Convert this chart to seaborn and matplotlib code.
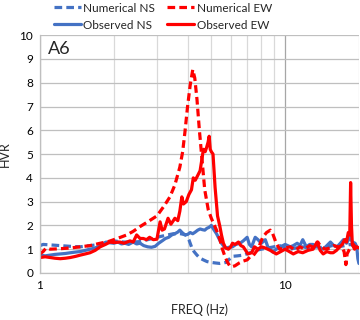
import pandas as pd
import matplotlib
matplotlib.use("Agg")
import matplotlib.pyplot as plt
from matplotlib.ticker import LogLocator, FixedLocator, FixedFormatter, NullFormatter
import seaborn as sns

# datos (frecuencia en Hz, HVR)
freq_obs_ns = [1.00, 1.05, 1.10, 1.15, 1.21, 1.27, 1.33, 1.40, 1.46, 1.53, 1.60, 1.68, 1.76, 1.81,
               1.86, 1.93, 2.00, 2.08, 2.15, 2.22, 2.30, 2.40, 2.48, 2.56, 2.65, 2.75, 2.85, 2.95,
               3.05, 3.15, 3.25, 3.35, 3.45, 3.55, 3.65, 3.72, 3.80, 3.90, 4.00, 4.10, 4.20, 4.30,
               4.40, 4.50, 4.60, 4.70, 4.80, 4.90, 5.00, 5.10, 5.25, 5.40, 5.50, 5.65, 5.77, 5.90,
               6.10, 6.30, 6.55, 6.75, 7.00, 7.15, 7.30, 7.55, 7.75, 8.00, 8.30, 8.50, 8.70, 8.90,
               9.20, 9.60, 10.0, 10.5, 10.8, 11.2, 11.5, 11.8, 12.2, 12.6, 13.0, 13.6, 14.3, 14.8,
               15.3, 15.8, 16.3, 16.8, 17.3, 17.8, 18.4, 18.8, 19.3, 19.6, 19.8, 20.0]
hvr_obs_ns = [0.75, 0.72, 0.75, 0.78, 0.80, 0.82, 0.85, 0.88, 0.90, 0.95, 1.00, 1.05, 1.15, 1.22,
              1.30, 1.27, 1.25, 1.30, 1.22, 1.25, 1.20, 1.30, 1.22, 1.25, 1.15, 1.10, 1.08, 1.12,
              1.25, 1.35, 1.45, 1.50, 1.60, 1.65, 1.72, 1.80, 1.70, 1.60, 1.62, 1.70, 1.65, 1.72,
              1.80, 1.85, 1.82, 1.80, 1.88, 1.92, 2.00, 1.85, 1.65, 1.40, 1.25, 1.10, 1.05, 1.08,
              1.10, 1.20, 1.25, 1.35, 1.50, 1.20, 1.10, 1.50, 1.40, 1.25, 1.40, 1.10, 1.00, 0.88,
              1.00, 1.10, 1.20, 1.10, 1.15, 1.25, 1.15, 1.40, 1.10, 1.20, 1.20, 1.10, 1.00, 1.15,
              1.30, 1.15, 1.10, 1.25, 1.40, 1.25, 1.50, 1.30, 1.25, 1.10, 0.60, 0.40]

freq_obs_ew = [1.00, 1.05, 1.10, 1.15, 1.21, 1.27, 1.33, 1.40, 1.46, 1.53, 1.60, 1.68, 1.76, 1.85,
               1.93, 2.00, 2.12, 2.20, 2.33, 2.40, 2.48, 2.56, 2.64, 2.72, 2.80, 2.90, 3.00, 3.09,
               3.15, 3.22, 3.33, 3.42, 3.50, 3.55, 3.65, 3.72, 3.79, 3.85, 3.95, 4.05, 4.15, 4.22,
               4.30, 4.40, 4.50, 4.58, 4.64, 4.72, 4.79, 4.85, 4.90, 4.95, 5.00, 5.08, 5.18, 5.30,
               5.42, 5.50, 5.60, 5.72, 5.87, 6.00, 6.10, 6.25, 6.45, 6.60, 6.75, 6.90, 7.05, 7.30,
               7.50, 7.75, 8.00, 8.30, 8.70, 9.20, 9.60, 10.0, 10.4, 10.8, 11.3, 11.8, 12.4, 13.0,
               13.5, 13.9, 14.3, 14.8, 15.3, 15.7, 16.2, 16.7, 17.1, 17.5, 17.8, 18.1, 18.35, 18.5,
               18.65, 18.8, 19.2, 19.6, 20.0]
hvr_obs_ew = [0.65, 0.68, 0.65, 0.62, 0.60, 0.62, 0.65, 0.70, 0.75, 0.80, 0.85, 0.95, 1.10, 1.20,
              1.30, 1.28, 1.30, 1.25, 1.35, 1.30, 1.60, 1.45, 1.45, 1.40, 1.50, 1.40, 1.42, 2.15,
              1.80, 1.85, 2.30, 2.05, 2.20, 2.30, 2.20, 2.60, 3.20, 2.90, 3.00, 3.30, 3.50, 4.00,
              3.90, 4.10, 4.30, 4.80, 5.20, 5.10, 5.30, 5.50, 5.75, 5.20, 5.10, 5.00, 3.60, 2.40,
              1.95, 1.60, 1.25, 1.05, 1.00, 1.10, 1.25, 1.20, 1.30, 1.15, 1.10, 0.95, 0.80, 0.85,
              1.10, 1.00, 1.10, 1.05, 0.95, 0.80, 0.90, 1.00, 0.90, 0.80, 0.90, 0.85, 0.95, 1.00,
              1.30, 0.95, 0.80, 0.90, 0.85, 0.85, 0.95, 1.10, 1.20, 1.40, 1.30, 1.70, 1.60, 3.80,
              2.00, 1.20, 1.00, 1.10, 1.05]

freq_num_ns = [1.00, 1.03, 1.10, 1.21, 1.33, 1.46, 1.60, 1.76, 1.90, 2.00, 2.20, 2.40, 2.56, 2.75,
               3.00, 3.25, 3.50, 3.75, 3.95, 4.05, 4.15, 4.25, 4.37, 4.50, 4.64, 4.80, 4.94, 5.20,
               5.42, 5.60, 5.77, 5.95, 6.10, 6.40, 6.75, 7.20, 7.60, 8.00, 8.50, 9.00, 9.50, 10.0,
               10.5, 11.0, 11.8, 12.5, 13.5, 14.5, 15.5, 16.5, 17.5, 18.5, 19.3, 20.0]
hvr_num_ns = [1.15, 1.20, 1.18, 1.15, 1.12, 1.10, 1.15, 1.20, 1.28, 1.35, 1.30, 1.30, 1.32, 1.40,
              1.50, 1.58, 1.65, 1.65, 1.60, 1.40, 1.10, 0.90, 0.75, 0.62, 0.55, 0.48, 0.45, 0.42,
              0.40, 0.42, 0.45, 0.60, 0.70, 0.72, 0.75, 0.85, 0.95, 1.00, 1.05, 1.10, 1.15, 1.05,
              1.00, 1.05, 1.10, 1.05, 1.10, 1.05, 1.15, 1.10, 1.15, 1.20, 1.10, 1.05]

freq_num_ew = [1.00, 1.03, 1.06, 1.10, 1.21, 1.33, 1.46, 1.60, 1.76, 1.90, 2.00, 2.13, 2.26, 2.40,
               2.56, 2.75, 3.00, 3.20, 3.39, 3.55, 3.72, 3.82, 3.90, 4.00, 4.10, 4.20, 4.28, 4.37,
               4.47, 4.57, 4.70, 4.86, 5.00, 5.10, 5.25, 5.42, 5.55, 5.68, 5.82, 5.96, 6.10, 6.24,
               6.50, 6.75, 7.00, 7.20, 7.40, 7.75, 8.10, 8.40, 8.70, 8.90, 9.20, 9.50, 10.0, 10.5,
               11.0, 11.5, 12.0, 12.6, 13.2, 13.6, 14.0, 14.6, 15.2, 15.8, 16.4, 17.0, 17.4, 17.7,
               17.9, 18.3, 19.0, 19.6, 20.0]
hvr_num_ew = [0.80, 0.90, 1.05, 1.00, 1.02, 1.05, 1.10, 1.15, 1.25, 1.32, 1.40, 1.50, 1.60, 1.75,
              1.95, 2.15, 2.40, 2.80, 3.20, 3.70, 4.45, 5.10, 5.90, 7.00, 7.90, 8.55, 8.20, 7.30,
              6.00, 4.90, 3.50, 2.65, 2.30, 2.10, 1.80, 1.40, 1.00, 0.70, 0.45, 0.28, 0.27, 0.30,
              0.42, 0.50, 0.55, 0.68, 0.72, 1.00, 1.50, 1.70, 1.80, 1.65, 1.25, 1.00, 1.05, 1.10,
              0.95, 1.10, 1.00, 1.15, 1.05, 1.30, 1.10, 1.00, 1.05, 1.15, 1.10, 1.10, 0.90, 0.35,
              0.80, 1.00, 1.20, 1.00, 1.00]

azul = "#4472C4"
rojo = "#FF0000"

sns.set_style("white")
plt.rcParams['font.family'] = ['Lato', 'DejaVu Sans']

fig = plt.figure(figsize=(3.6, 3.2), dpi=100)
ax = fig.add_axes([0.111, 0.147, 0.886, 0.743])

series = [
    ("Numerical NS", freq_num_ns, hvr_num_ns, azul, True),
    ("Observed NS", freq_obs_ns, hvr_obs_ns, azul, False),
    ("Numerical EW", freq_num_ew, hvr_num_ew, rojo, True),
    ("Observed EW", freq_obs_ew, hvr_obs_ew, rojo, False),
]
# dibujar primero NS, luego EW encima
orden = [1, 0, 3, 2]
lineas = {}
for i in orden:
    nombre, f, h, c, dash = series[i]
    df = pd.DataFrame({"FREQ": f, "HVR": h})
    sns.lineplot(data=df, x="FREQ", y="HVR", ax=ax, color=c, linewidth=2.3,
                 linestyle=(0, (2.4, 1.3)) if dash else "-", label=nombre, legend=False)
    lineas[nombre] = ax.lines[-1]

ax.set_xscale("log")
ax.set_xlim(1, 20)
ax.set_ylim(0, 10)
ax.set_yticks(range(0, 11))
ax.xaxis.set_major_locator(FixedLocator([1, 10]))
ax.xaxis.set_major_formatter(FixedFormatter(["1", "10"]))
ax.xaxis.set_minor_locator(LogLocator(base=10, subs=range(2, 10)))
ax.xaxis.set_minor_formatter(NullFormatter())
ax.grid(True, which="major", axis="x", color="#a6a6a6", linewidth=0.9)
ax.grid(True, which="minor", axis="x", color="#d9d9d9", linewidth=0.9)
ax.grid(True, which="major", axis="y", color="#bfbfbf", linewidth=0.9)
ax.set_axisbelow(True)
for s in ["top", "right"]:
    ax.spines[s].set_visible(False)
for s in ["left", "bottom"]:
    ax.spines[s].set_color("#bfbfbf")
    ax.spines[s].set_linewidth(0.9)
ax.tick_params(axis="both", which="both", length=0, labelsize=8.5, colors="black", pad=5)
ax.set_xlabel("FREQ (Hz)", fontsize=9, labelpad=9)
ax.set_ylabel("HVR", fontsize=9, labelpad=6)
ax.text(0.025, 0.975, "A6", transform=ax.transAxes, fontsize=13, va="top", ha="left")

nombres = ["Numerical NS", "Observed NS", "Numerical EW", "Observed EW"]
fig.legend([lineas[n] for n in nombres], nombres, loc="upper left",
           bbox_to_anchor=(0.12, 1.025), ncol=2, frameon=False, fontsize=8.5,
           handlelength=2.3, handletextpad=0.2, columnspacing=1.0, labelspacing=0.5)

fig.savefig("out.png", dpi=100)
